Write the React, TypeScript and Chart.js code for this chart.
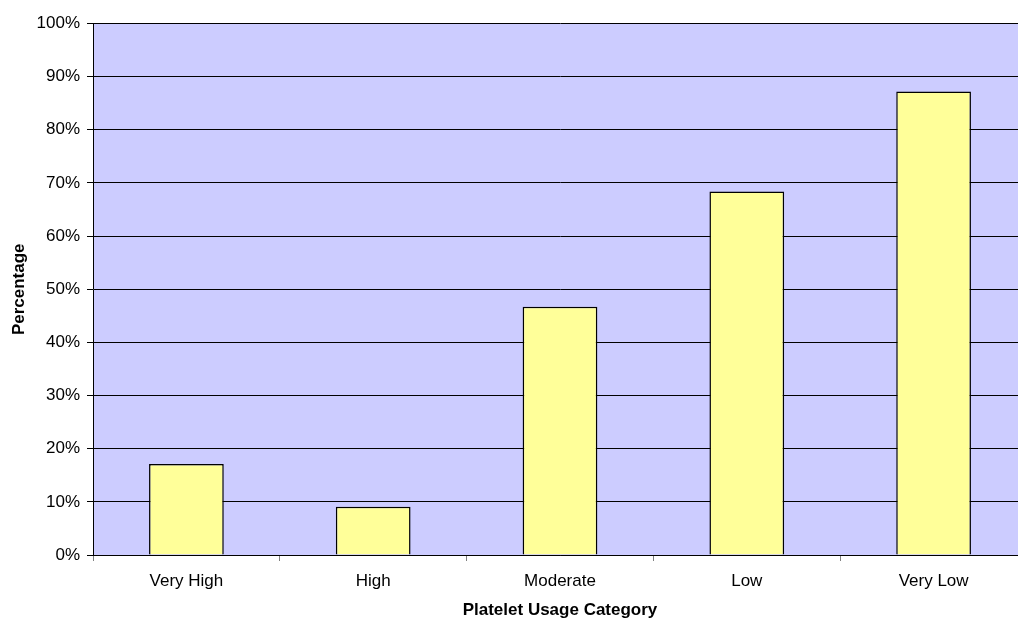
import React, { useEffect, useRef } from "react";
import { Chart, registerables } from "chart.js";

Chart.register(...registerables);

// Share of sites in each platelet usage category
const categories = ["Very High", "High", "Moderate", "Low", "Very Low"];
const percentages = [17.1, 9.1, 46.7, 68.4, 87.2];
const yTickStep = 10;
const yMax = 100;

const FONT = "'Liberation Sans', Arial, Helvetica, sans-serif";

// Fills the plotting area with the lavender backdrop
const plotBackground = {
  id: "plotBackground",
  beforeDraw(chart: any) {
    const { ctx, chartArea } = chart;
    if (!chartArea) return;
    ctx.save();
    ctx.fillStyle = "#CCCCFF";
    ctx.fillRect(
      chartArea.left,
      chartArea.top,
      chartArea.right - chartArea.left,
      chartArea.bottom - chartArea.top
    );
    ctx.restore();
  },
};

export default function App() {
  const canvasRef = useRef<HTMLCanvasElement | null>(null);

  useEffect(() => {
    const canvas = canvasRef.current;
    if (!canvas) return;
    const chart = new Chart(canvas, {
      type: "bar",
      data: {
        labels: categories,
        datasets: [
          {
            data: percentages,
            backgroundColor: "#FFFF99",
            borderColor: "#000000",
            borderWidth: 1.5,
            barPercentage: 0.4,
            categoryPercentage: 1,
          },
        ],
      },
      plugins: [plotBackground],
      options: {
        responsive: false,
        animation: false,
        devicePixelRatio: 1,
        layout: { padding: { left: 0, top: 23.5, right: 0, bottom: 0 } },
        plugins: {
          legend: { display: false },
          tooltip: { enabled: false },
        },
        scales: {
          x: {
            offset: true,
            afterFit(scale: any) {
              scale.height = 64;
            },
            grid: {
              display: true,
              offset: true,
              drawOnChartArea: false,
              drawTicks: true,
              tickLength: 6,
              color: "#808080",
            },
            border: { display: true, color: "#000000", width: 1 },
            ticks: {
              color: "#000000",
              font: { family: FONT, size: 17 },
              padding: 10,
              maxRotation: 0,
              autoSkip: false,
            },
            title: {
              display: true,
              text: "Platelet Usage Category",
              color: "#000000",
              font: { family: FONT, size: 17, weight: "bold", lineHeight: 1 },
              padding: { top: 0, bottom: 0 },
            },
          },
          y: {
            min: 0,
            max: yMax,
            afterFit(scale: any) {
              scale.width = 93;
            },
            grid: {
              color: "#000000",
              lineWidth: 1,
              drawTicks: true,
              tickLength: 6,
            },
            border: { display: true, color: "#000000", width: 1 },
            ticks: {
              stepSize: yTickStep,
              color: "#000000",
              font: { family: FONT, size: 17 },
              padding: 7,
              callback: (v: any) => `${v}%`,
            },
            title: {
              display: true,
              text: "Percentage",
              color: "#000000",
              font: { family: FONT, size: 17, weight: "bold", lineHeight: 1 },
              padding: { top: 11, bottom: 0 },
            },
          },
        },
      },
    });
    return () => chart.destroy();
  }, []);

  return (
    <div
      style={{
        position: "absolute",
        left: 0,
        top: 0,
        width: 1018,
        height: 619,
        overflow: "hidden",
        background: "#ffffff",
      }}
    >
      <canvas
        ref={canvasRef}
        width={1027}
        height={619}
        style={{ display: "block", width: 1027, height: 619 }}
      />
    </div>
  );
}
